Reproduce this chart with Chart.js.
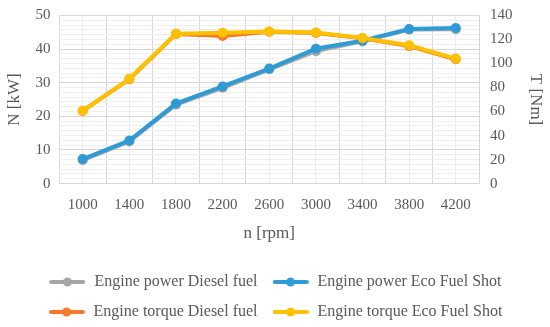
<!DOCTYPE html>
<html>
<head>
<meta charset="utf-8">
<script src="https://cdn.jsdelivr.net/npm/chart.js@4/dist/chart.umd.min.js"></script>
<style>
  body { margin: 0; background: #fff; }
  #chart { display: block; }
</style>
</head>
<body>
<canvas id="chart" width="550" height="327"></canvas>
<script>
// Engine speed categories
const rpm = ['1000', '1400', '1800', '2200', '2600', '3000', '3400', '3800', '4200'];

// Engine power [kW]
const powerDiesel = [7.0, 12.5, 23.5, 28.5, 34.0, 39.4, 42.3, 45.8, 45.9];
const powerEco = [7.3, 12.8, 23.8, 28.9, 34.2, 40.1, 42.5, 46.0, 46.3];

// Engine torque [Nm]
const torqueDiesel = [60.5, 87.0, 124.5, 123.0, 126.5, 125.5, 121.0, 114.5, 103.5];
const torqueEco = [60.6, 87.3, 124.8, 125.6, 126.6, 125.9, 121.2, 115.2, 104.1];

const leftTicks = [0, 10, 20, 30, 40, 50];
const rightTicks = [0, 20, 40, 60, 80, 100, 120, 140];

const textColor = '#595959';
const fontFamily = "'Liberation Serif', 'DejaVu Serif', serif";

// small canvas: line with a dot, like the excel legend keys
function legendIcon(color) {
    const c = document.createElement('canvas');
    c.width = 36;
    c.height = 10;
    const g = c.getContext('2d');
    g.strokeStyle = color;
    g.lineWidth = 4;
    g.lineCap = 'round';
    g.beginPath();
    g.moveTo(2, 5);
    g.lineTo(34, 5);
    g.stroke();
    g.fillStyle = color;
    g.beginPath();
    g.arc(18, 5, 4.5, 0, 2 * Math.PI);
    g.fill();
    return c;
}

function series(label, data, color, axis, order) {
    return {
        label: label,
        data: data,
        yAxisID: axis,
        borderColor: color,
        backgroundColor: color,
        borderWidth: 4,
        pointRadius: 5,
        pointHoverRadius: 5,
        pointBackgroundColor: color,
        pointBorderWidth: 0,
        tension: 0,
        order: order
    };
}

new Chart(document.getElementById('chart'), {
    type: 'line',
    data: {
        labels: rpm,
        datasets: [
            series('Engine power Diesel fuel', powerDiesel, '#a5a5a5', 'y', 4),
            series('Engine power Eco Fuel Shot', powerEco, '#2e9ad6', 'y', 3),
            series('Engine torque Diesel fuel', torqueDiesel, '#f47b2b', 'y1', 2),
            series('Engine torque Eco Fuel Shot', torqueEco, '#ffc000', 'y1', 1)
        ]
    },
    options: {
        responsive: false,
        animation: false,
        layout: { padding: { left: 2, right: 2, top: 0, bottom: -3 } },
        plugins: {
            tooltip: { enabled: false },
            legend: {
                position: 'bottom',
                labels: {
                    usePointStyle: true,
                    pointStyleWidth: 38,
                    padding: 14,
                    color: textColor,
                    font: { family: fontFamily, size: 16 },
                    generateLabels: function(chart) {
                        return chart.data.datasets.map((ds, i) => ({
                            text: ds.label,
                            pointStyle: legendIcon(ds.borderColor),
                            fillStyle: ds.borderColor,
                            strokeStyle: ds.borderColor,
                            lineWidth: 0,
                            hidden: false,
                            fontColor: textColor,
                            datasetIndex: i
                        }));
                    }
                }
            }
        },
        scales: {
            x: {
                offset: true,
                grid: { offset: true, color: '#d6d6d6', drawTicks: false },
                border: { display: false },
                ticks: { color: textColor, font: { family: fontFamily, size: 15 }, padding: 12 },
                title: {
                    display: true,
                    text: 'n [rpm]',
                    color: textColor,
                    font: { family: fontFamily, size: 17 },
                    padding: { top: -2, bottom: 16 }
                }
            },
            // light lines through the category centres
            x2: {
                type: 'category',
                labels: rpm,
                position: 'top',
                offset: true,
                grid: { offset: false, color: '#ebebeb', drawTicks: false },
                border: { display: false },
                ticks: { display: false }
            },
            y: {
                position: 'left',
                min: 0,
                max: 50,
                afterBuildTicks: axis => { axis.ticks = leftTicks.map(v => ({ value: v })); },
                grid: { display: false, drawTicks: false },
                border: { display: false },
                ticks: { color: textColor, font: { family: fontFamily, size: 15, lineHeight: 0.6 }, padding: 9 },
                title: {
                    display: true,
                    text: 'N [kW]',
                    color: textColor,
                    font: { family: fontFamily, size: 17 },
                    padding: 2
                }
            },
            y1: {
                position: 'right',
                min: 0,
                max: 140,
                ticks: {
                    stepSize: 4,
                    autoSkip: false,
                    color: textColor,
                    font: { family: fontFamily, size: 15, lineHeight: 0.6 },
                    padding: 11,
                    callback: v => rightTicks.includes(v) ? String(v) : ''
                },
                grid: {
                    drawTicks: false,
                    color: c => (c.tick.value % 28 === 0) ? '#d6d6d6' : '#efefef'
                },
                border: { display: false },
                title: {
                    display: true,
                    text: 'T [Nm]',
                    color: textColor,
                    font: { family: fontFamily, size: 17 },
                    padding: 2
                }
            }
        }
    }
});
</script>
</body>
</html>
